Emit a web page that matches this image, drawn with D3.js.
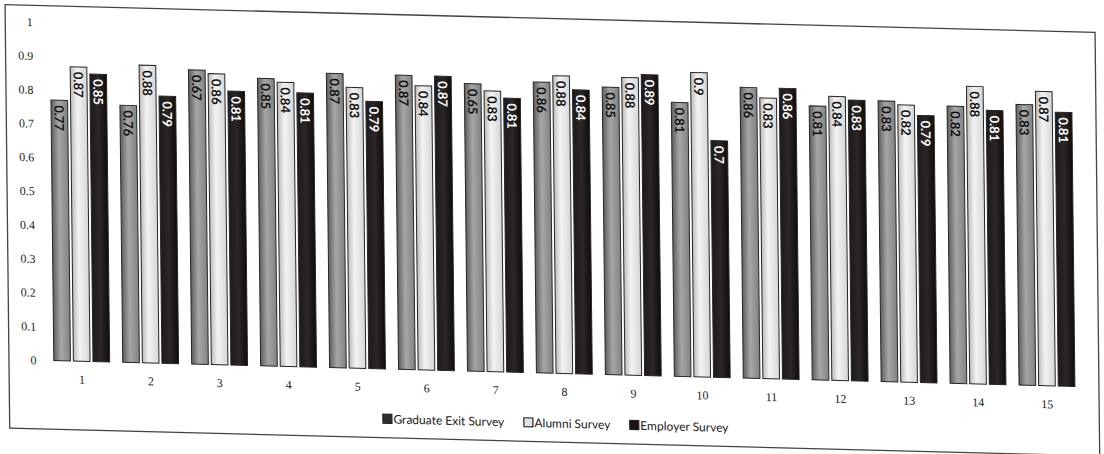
<!DOCTYPE html>
<html><head><meta charset="utf-8">
<script src="https://cdn.jsdelivr.net/npm/d3@7/dist/d3.min.js"></script>
<style>html,body{margin:0;padding:0;background:#fff;} svg{display:block}</style>
</head><body>
<svg id="chart" width="1104" height="454"></svg>
<script>
const categories = ["1","2","3","4","5","6","7","8","9","10","11","12","13","14","15"];
const seriesNames = ["Graduate Exit Survey","Alumni Survey","Employer Survey"];
const gradExit = [0.77,0.76,0.87,0.85,0.87,0.87,0.85,0.86,0.85,0.81,0.86,0.81,0.83,0.82,0.83];
const alumni   = [0.87,0.88,0.86,0.84,0.83,0.84,0.83,0.88,0.88,0.9,0.83,0.84,0.82,0.88,0.87];
const employer = [0.85,0.79,0.81,0.81,0.79,0.87,0.81,0.84,0.89,0.7,0.86,0.83,0.79,0.81,0.81];
const gradExitLabels = ["0.77","0.76","0.67","0.85","0.87","0.87","0.65","0.86","0.85","0.81","0.86","0.81","0.83","0.82","0.83"];
const alumniLabels   = ["0.87","0.88","0.86","0.84","0.83","0.84","0.83","0.88","0.88","0.9","0.83","0.84","0.82","0.88","0.87"];
const employerLabels = ["0.85","0.79","0.81","0.81","0.79","0.87","0.81","0.84","0.89","0.7","0.86","0.83","0.79","0.81","0.81"];
const yTicks = [0,0.1,0.2,0.3,0.4,0.5,0.6,0.7,0.8,0.9,1];

const seriesValues = [gradExit, alumni, employer];
const seriesLabels = [gradExitLabels, alumniLabels, employerLabels];

const svg = d3.select("#chart");
const defs = svg.append("defs");
const grads = [
  {id:"gGrad", stops:[[0,"#5e5e5e"],[0.45,"#a6a6a6"],[1,"#838383"]]},
  {id:"gAlum", stops:[[0,"#bcbcbc"],[0.4,"#f3f3f3"],[1,"#d6d6d6"]]},
  {id:"gEmp",  stops:[[0,"#1e1a1a"],[0.5,"#2c2626"],[1,"#0e0c0c"]]}
];
grads.forEach(g => {
  const lg = defs.append("linearGradient").attr("id", g.id)
    .attr("x1","0").attr("y1","0").attr("x2","1").attr("y2","0");
  g.stops.forEach(s => lg.append("stop").attr("offset", s[0]).attr("stop-color", s[1]));
});
const fills = ["url(#gGrad)","url(#gAlum)","url(#gEmp)"];
const labelColors = ["#111","#111","#fff"];
const legendFills = ["#2e2e2e","#e2e2e2","#1c1212"];

const root = svg.append("g").attr("transform","matrix(1,0.0255,0.011,1,0,0)");

// frame
root.append("rect").attr("x",5).attr("y",4.5).attr("width",1090).attr("height",423.5)
  .attr("fill","none").attr("stroke","#444").attr("stroke-width",1.3);

const y = d3.scaleLinear().domain([0,1]).range([359.2, 21]);
const x0 = d3.scaleBand().domain(categories).range([43.3, 1077.5]).paddingInner(0.19).paddingOuter(0.095);
const x1 = d3.scaleBand().domain(d3.range(3)).range([0, x0.bandwidth()]).paddingInner(0.15);

// y axis labels
const yAxis = d3.axisLeft(y).tickValues(yTicks).tickSize(0).tickPadding(0).tickFormat(d3.format("~g"));
const yg = root.append("g").attr("transform","translate(32.5,0)").call(yAxis);
yg.select(".domain").remove();
yg.selectAll("text").attr("font-family","'Liberation Serif', serif").attr("font-size",12).attr("fill","#222");

// x axis labels
const xAxis = d3.axisBottom(x0).tickSize(0).tickPadding(0);
const xg = root.append("g").attr("transform","translate(0,373)").call(xAxis);
xg.select(".domain").remove();
xg.selectAll("text").attr("font-family","'Liberation Serif', serif").attr("font-size",12).attr("fill","#222");

// bars
const groups = root.append("g").selectAll("g").data(categories).join("g")
  .attr("transform", d => `translate(${x0(d)},0)`);
groups.each(function(cat, i) {
  const g = d3.select(this);
  for (let s = 0; s < 3; s++) {
    const v = seriesValues[s][i];
    g.append("rect")
      .attr("x", x1(s)).attr("y", y(v))
      .attr("width", x1.bandwidth()).attr("height", y(0) - y(v))
      .attr("fill", fills[s]).attr("stroke", "#262626").attr("stroke-width", 1);
    const cx = x1(s) + x1.bandwidth()/2;
    g.append("text")
      .attr("transform", `translate(${cx},${y(v) + 5}) rotate(90)`)
      .attr("text-anchor","start").attr("dominant-baseline","central")
      .attr("font-family","Lato, 'Liberation Sans', sans-serif").attr("font-weight","bold")
      .attr("font-size",13).attr("fill", labelColors[s])
      .text(seriesLabels[s][i]);
  }
});

// legend
const legendX = [378.4, 519.4, 625.3];
const legend = root.append("g").attr("transform","translate(0,409)");
seriesNames.forEach((name, s) => {
  const lg = legend.append("g").attr("transform", `translate(${legendX[s]},0)`);
  lg.append("rect").attr("x",0).attr("y",-4.5).attr("width",9).attr("height",9)
    .attr("fill", legendFills[s]).attr("stroke","#222").attr("stroke-width",1.2);
  lg.append("text").attr("x",10.5).attr("y",0).attr("dominant-baseline","central")
    .attr("font-family","Lato, 'Liberation Sans', sans-serif").attr("font-size",12).attr("fill","#222")
    .text(name);
});
</script>
</body></html>
